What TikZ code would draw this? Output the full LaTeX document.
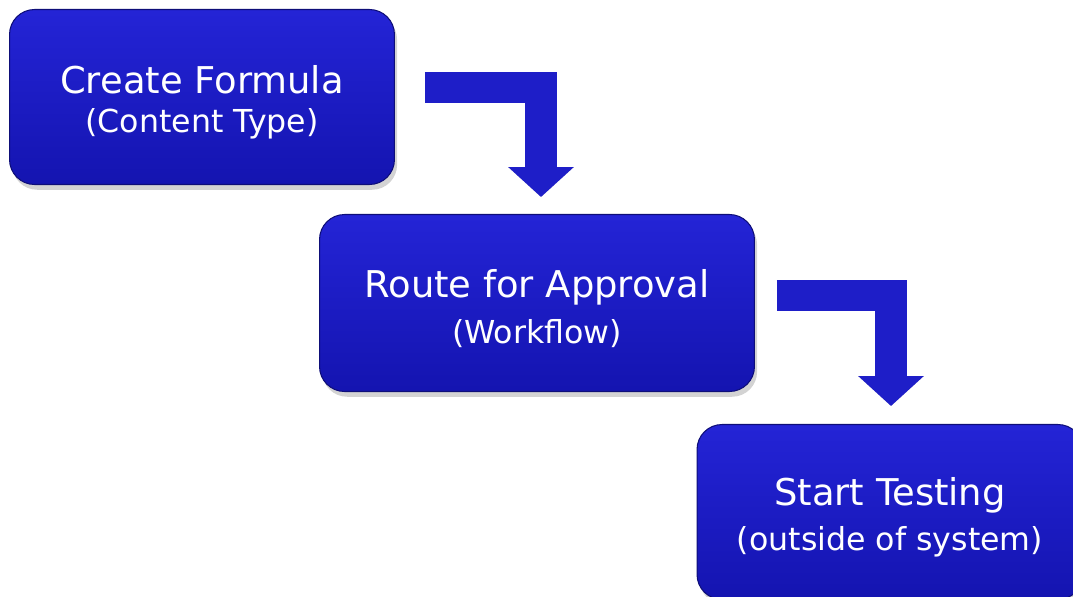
\documentclass[tikz,border=0pt]{standalone}
\usepackage{fontspec}
\setsansfont{DejaVu Sans}
\usetikzlibrary{arrows.meta,calc,shadows}
\definecolor{boxtop}{RGB}{36,36,214}
\definecolor{boxbot}{RGB}{20,20,176}
\definecolor{boxrim}{RGB}{14,14,120}
\definecolor{arrowblue}{RGB}{30,30,200}

\begin{document}
\begin{tikzpicture}[x=0.02cm,y=-0.02cm,font=\sffamily,
  stepbox/.style={draw=boxrim,line width=0.6pt,rounded corners=0.5cm,top color=boxtop,bottom color=boxbot,text=white,align=center,inner sep=0pt,
    drop shadow={shadow xshift=1.5pt,shadow yshift=-3pt,opacity=0.35}},
  elbow/.style={line width=0.63cm,draw=arrowblue,-{Triangle[length=0.6cm,width=1.28cm]}},
  elbowshade/.style={elbow,draw=black!70,opacity=0.25,shift={(2,3)}}]
\clip (0,0) rectangle (1073,596);
\foreach \x/\y/\w/\h/\n/\t/\s in {202/97/7.7/3.5/create/Create Formula/Content Type,537/303/8.7/3.54/route/Route for Approval/Workflow,890/512/7.72/3.5/test/Start Testing/outside of system}
  \node[stepbox,minimum width=\w cm,minimum height=\h cm] (\n) at (\x,\y) {{\fontsize{21}{24}\selectfont\rule{0pt}{22pt}\t}\\[7pt]{\fontsize{18}{22}\selectfont(\s)}};
\draw[elbowshade] ($(create.east)+(30,-9.5)$) -| ($(route.north)+(4,-17)$);
\draw[elbow] ($(create.east)+(30,-9.5)$) -| ($(route.north)+(4,-17)$);
\draw[elbowshade] ($(route.east)+(22,-7.5)$) -| ($(test.north)+(1,-18)$);
\draw[elbow] ($(route.east)+(22,-7.5)$) -| ($(test.north)+(1,-18)$);
\end{tikzpicture}
\end{document}
